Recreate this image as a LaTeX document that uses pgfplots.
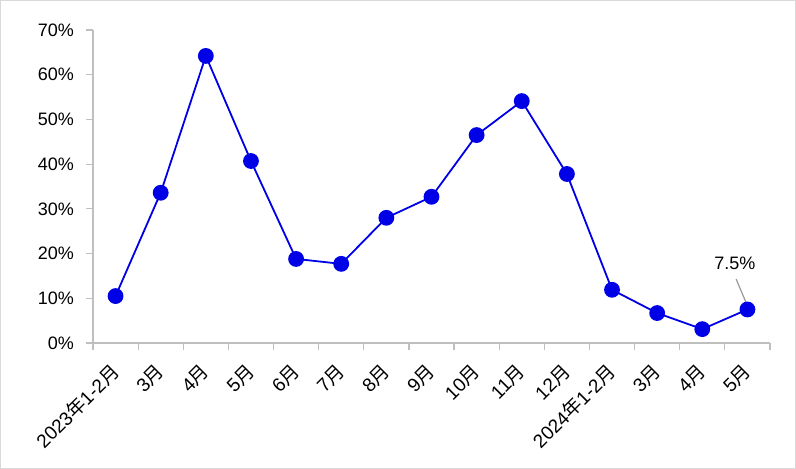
\documentclass[border=0pt]{standalone}
\usepackage{pgfplots}
\pgfplotsset{compat=1.18}
\usepackage{fontspec}
\setmainfont{Liberation Sans}
\newfontfamily\cjk{Noto Sans CJK SC}
\newcommand{\yue}{{\cjk 月}}
\newcommand{\nian}{{\cjk 年}}
\definecolor{lineblue}{HTML}{0000E6}
\definecolor{axgray}{HTML}{BFBFBF}
\definecolor{frame}{HTML}{D9D9D9}

\begin{document}
\fontsize{18pt}{21pt}\selectfont
\begin{tikzpicture}[x=1pt,y=1pt]
\draw[frame, line width=1.2pt] (0.6,0.6) rectangle (795.4,468.4);
\begin{axis}[
    at={(93pt,126pt)}, anchor=south west,
    scale only axis, width=677pt, height=313pt,
    xmin=-0.5, xmax=14.5, ymin=0, ymax=70,
    axis x line*=bottom, axis y line*=left,
    axis line style={axgray, line width=1.2pt},
    every tick/.style={axgray, line width=1.2pt},
    tick align=outside,
    xtick={0,...,14}, major x tick style={draw=none},
    minor xtick={-0.5,0.5,...,14.5},
    minor tick length=7pt,
    ytick={0,10,...,70}, major tick length=7pt,
    xticklabels={2023\nian1-2\yue,3\yue,4\yue,5\yue,6\yue,7\yue,8\yue,9\yue,10\yue,11\yue,12\yue,2024\nian1-2\yue,3\yue,4\yue,5\yue},
    xticklabel style={rotate=45, anchor=east, font=\fontsize{19pt}{22pt}\selectfont, inner sep=0pt},
    xticklabel shift=18pt,
    yticklabel={\pgfmathprintnumber{\tick}\%},
    yticklabel style={font=\fontsize{18pt}{21pt}\selectfont, xshift=-6pt},
    /pgf/number format/assume math mode=true,
    clip=false,
]
\addplot[lineblue, line width=1.8pt, mark=*, mark size=7pt, mark options={fill=lineblue, draw=lineblue}]
    coordinates {(0,10.5) (1,33.6) (2,64.2) (3,40.7) (4,18.8) (5,17.7) (6,28.0) (7,32.7) (8,46.5) (9,54.1) (10,37.8) (11,11.9) (12,6.7) (13,3.1) (14,7.5)};
\draw[axgray!80!black, line width=1.2pt] (axis cs:13.75,14.3) -- (axis cs:14,8.3);
\node[font=\fontsize{18pt}{21pt}\selectfont] at (axis cs:13.72,17.9) {7.5\%};
\end{axis}
\end{tikzpicture}
\end{document}
